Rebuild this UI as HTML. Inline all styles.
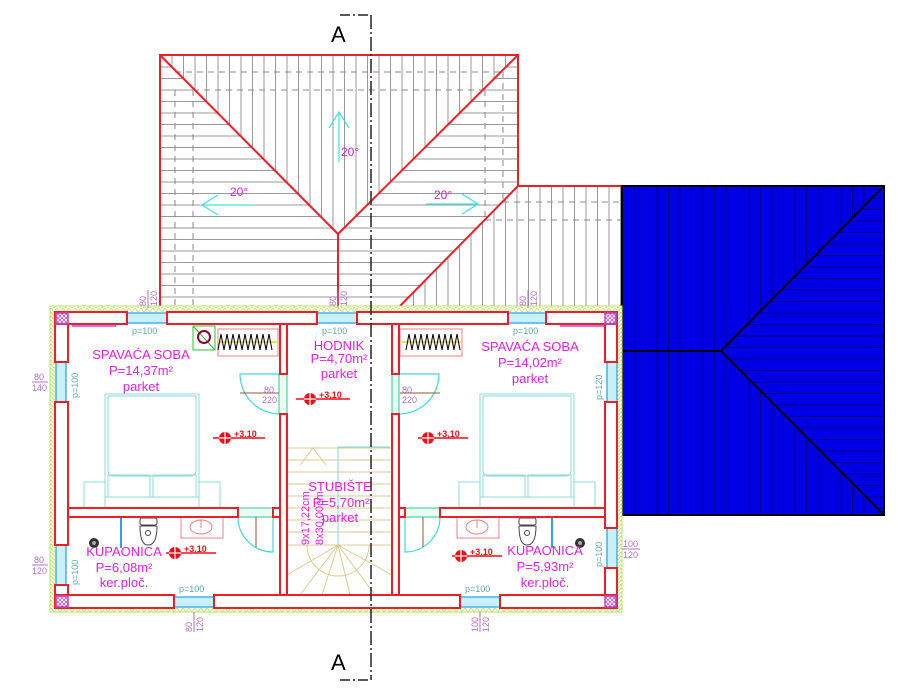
<!DOCTYPE html>
<html><head><meta charset="utf-8"><style>
html,body{margin:0;padding:0;background:#fff;}
svg{display:block;font-family:"Liberation Sans",sans-serif;}
</style></head><body>
<svg width="898" height="690" viewBox="0 0 898 690" xmlns="http://www.w3.org/2000/svg">
<defs>
<pattern id="hl" width="10" height="11.5" patternUnits="userSpaceOnUse" y="55"><line x1="0" y1="0.5" x2="10" y2="0.5" stroke="#999" stroke-width="1"/></pattern>
<pattern id="vl" width="11.5" height="10" patternUnits="userSpaceOnUse" x="160"><line x1="0.5" y1="0" x2="0.5" y2="10" stroke="#999" stroke-width="1"/></pattern>
<pattern id="bv" width="11.5" height="10" patternUnits="userSpaceOnUse" x="622"><line x1="0.5" y1="0" x2="0.5" y2="10" stroke="#00008a" stroke-width="1"/></pattern>
<pattern id="bh" width="10" height="11.5" patternUnits="userSpaceOnUse" y="186"><line x1="0" y1="0.5" x2="10" y2="0.5" stroke="#00008a" stroke-width="1"/></pattern>
<pattern id="zig" width="6" height="4" patternUnits="userSpaceOnUse"><path d="M0 4 L3 0 L6 4" fill="none" stroke="#b7e05a" stroke-width="0.8"/></pattern>
<pattern id="xh" width="4" height="4" patternUnits="userSpaceOnUse"><path d="M0 0L4 4M4 0L0 4" stroke="#c040c0" stroke-width="0.7"/></pattern>
</defs>

<polygon points="160,55 338,234 338,306 160,306" fill="url(#hl)"/>
<polygon points="160,55 518,55 338,234" fill="url(#vl)"/>
<polygon points="518,55 518,186 400,306 338,306 338,234" fill="url(#hl)"/>
<polygon points="518,186 622,186 622,306 400,306" fill="url(#vl)"/>
<g stroke="#888" stroke-dasharray="6,5" stroke-width="1">
<line x1="175" y1="90" x2="175" y2="306"/><line x1="193" y1="90" x2="193" y2="306"/>
<line x1="175" y1="72" x2="503" y2="72"/><line x1="193" y1="90" x2="485" y2="90"/>
<line x1="503" y1="72" x2="503" y2="202"/><line x1="485" y1="90" x2="485" y2="220"/>
<line x1="503" y1="202" x2="622" y2="202"/><line x1="485" y1="220" x2="622" y2="220"/>
</g>
<g stroke="#e8202a" stroke-width="2" fill="none">
<polyline points="160,306 160,55 518,55 518,186 622,186"/>
<line x1="160" y1="55" x2="338" y2="234"/><line x1="518" y1="55" x2="338" y2="234"/>
<line x1="338" y1="234" x2="338" y2="306"/><line x1="518" y1="186" x2="400" y2="306"/>
</g>
<g stroke="#40e0e0" stroke-width="1.2" fill="none">
<line x1="339" y1="162" x2="339" y2="112"/><polyline points="329,128 339,112 349,128"/>
<line x1="252" y1="205" x2="202" y2="205"/><polyline points="218,195 202,205 218,215"/>
<line x1="426" y1="204" x2="478" y2="204"/><polyline points="462,194 478,204 462,214"/>
</g>
<g fill="#d020d0" font-size="12"><text x="341" y="156">20°</text><text x="230" y="196">20°</text><text x="434" y="199">20°</text></g>

<rect x="622" y="186" width="262" height="329" fill="#0000e4"/>
<polygon points="622,186 884,186 721,351 884,515 622,515" fill="url(#bv)"/>
<polygon points="884,186 721,351 884,515" fill="url(#bh)"/>
<g stroke="#000" stroke-width="2" fill="none">
<rect x="622" y="186" width="262" height="329"/>
<line x1="622" y1="351" x2="721" y2="351"/><line x1="721" y1="351" x2="884" y2="186"/><line x1="721" y1="351" x2="884" y2="515"/>
</g>

<rect x="50" y="306" width="572" height="306" fill="#fff" stroke="#b7e05a" stroke-width="1"/>
<rect x="51" y="307" width="570" height="5" fill="url(#zig)"/>
<rect x="51" y="608" width="570" height="4" fill="url(#zig)"/>
<rect x="50" y="307" width="5" height="304" fill="url(#zig)"/>
<rect x="617" y="307" width="5" height="304" fill="url(#zig)"/>

<g stroke="#e0c890" stroke-width="1" fill="none">
<line x1="287" y1="448" x2="392" y2="448"/><line x1="287" y1="460" x2="392" y2="460"/>
<line x1="287" y1="472" x2="392" y2="472"/><line x1="287" y1="484" x2="392" y2="484"/>
<line x1="287" y1="496" x2="392" y2="496"/><line x1="287" y1="508" x2="392" y2="508"/>
<line x1="287" y1="520" x2="392" y2="520"/><line x1="287" y1="532" x2="392" y2="532"/>
<polyline points="300,465 313,448 326,465"/>
<path d="M307 545 A31 31 0 0 0 369 545"/>
<line x1="338" y1="545" x2="287" y2="575"/><line x1="338" y1="545" x2="300" y2="595"/>
<line x1="338" y1="545" x2="322" y2="595"/><line x1="338" y1="545" x2="350" y2="595"/>
<line x1="338" y1="545" x2="375" y2="595"/><line x1="338" y1="545" x2="392" y2="575"/>
<line x1="287" y1="545" x2="392" y2="545"/>
</g>
<polyline points="338,545 338,447 390,447" fill="none" stroke="#7ad8e0" stroke-width="1"/>

<g stroke="#8ed8d8" stroke-width="1" fill="none">
<rect x="105" y="394" width="94" height="103"/><path d="M108 396 H196 V470 Q196 476 190 476 H114 Q108 476 108 470 Z"/>
<rect x="108" y="475" width="42" height="22"/><rect x="153" y="475" width="43" height="22"/>
<rect x="84" y="482" width="21" height="26"/><rect x="199" y="482" width="21" height="26"/><line x1="105" y1="497" x2="199" y2="497"/>
<rect x="480" y="394" width="94" height="103"/><path d="M483 396 H571 V470 Q571 476 565 476 H489 Q483 476 483 470 Z"/>
<rect x="483" y="475" width="42" height="22"/><rect x="528" y="475" width="43" height="22"/>
<rect x="459" y="482" width="21" height="26"/><rect x="574" y="482" width="21" height="26"/><line x1="480" y1="497" x2="574" y2="497"/>
</g>
<g stroke="#444" stroke-width="1" fill="#fff">
<rect x="140" y="518" width="17" height="7" rx="2"/><path d="M140 526 Q140 545 148 545 Q157 545 157 526 Z"/><circle cx="148" cy="533" r="2.5" fill="none"/>
<rect x="519" y="518" width="17" height="7" rx="2"/><path d="M519 526 Q519 545 527 545 Q536 545 536 526 Z"/><circle cx="527" cy="533" r="2.5" fill="none"/>
</g>
<g stroke="#f08080" stroke-width="1" fill="none">
<rect x="181" y="517" width="42" height="21"/><ellipse cx="201" cy="527" rx="11" ry="7"/><line x1="201" y1="520" x2="201" y2="528"/>
<rect x="457" y="517" width="42" height="21"/><ellipse cx="477" cy="527" rx="11" ry="7"/><line x1="477" y1="520" x2="477" y2="528"/>
<rect x="218" y="329" width="60" height="27"/><rect x="400" y="329" width="62" height="27"/>
</g>
<line x1="121" y1="518" x2="121" y2="548" stroke="#30a0e8" stroke-width="2"/>
<line x1="552" y1="518" x2="552" y2="548" stroke="#30a0e8" stroke-width="2"/>
<circle cx="94" cy="543" r="5" fill="#333"/><circle cx="94" cy="543" r="2" fill="#aaa"/>
<circle cx="580" cy="543" r="5" fill="#333"/><circle cx="580" cy="543" r="2" fill="#aaa"/>
<line x1="218" y1="342" x2="278" y2="342" stroke="#f0e040" stroke-width="2"/>
<line x1="402" y1="342" x2="462" y2="342" stroke="#f0e040" stroke-width="2"/>
<path d="M218 350 l3 -16 l3 16 l3 -16 l3 16 l3 -16 l3 16 l3 -16 l3 16 l3 -16 l3 16 l3 -16 l3 16 l3 -16 l3 16 l3 -16 l3 16 l3 -16 l3 16" fill="none" stroke="#000" stroke-width="1"/>
<path d="M406 350 l3 -16 l3 16 l3 -16 l3 16 l3 -16 l3 16 l3 -16 l3 16 l3 -16 l3 16 l3 -16 l3 16 l3 -16 l3 16 l3 -16 l3 16 l3 -16 l3 16" fill="none" stroke="#000" stroke-width="1"/>
<polygon points="193,326 215,326 215,350 193,350" fill="none" stroke="#30c030" stroke-width="1"/>
<line x1="193" y1="326" x2="215" y2="350" stroke="#30c030"/>
<circle cx="204" cy="337" r="6" fill="none" stroke="#900030" stroke-width="2"/>

<g stroke="#40d8d8" stroke-width="1.2" fill="none">
<path d="M280 374 L240 374 A40 40 0 0 0 280 414"/>
<path d="M399 374 L439 374 A40 40 0 0 1 399 414"/>
<path d="M238 517 A35 35 0 0 0 273 552 L273 517"/>
<path d="M440 517 A35 35 0 0 1 405 552 L405 517"/>
</g>
<g stroke="#a05030" stroke-width="1">
<line x1="240" y1="393" x2="280" y2="393"/><line x1="400" y1="393" x2="440" y2="393"/>
<line x1="256" y1="515" x2="256" y2="547"/><line x1="423" y1="515" x2="423" y2="547"/>
</g>
<rect x="279" y="374" width="8" height="40" fill="#e8fff0" stroke="#30c0a0"/>
<rect x="392" y="374" width="7" height="40" fill="#e8fff0" stroke="#30c0a0"/>
<rect x="238" y="508" width="35" height="9" fill="#e8fff0" stroke="#30c0a0"/>
<rect x="405" y="508" width="35" height="9" fill="#e8fff0" stroke="#30c0a0"/>

<g fill="#c8f0ff" stroke="#20a0e0" stroke-width="1.2">
<rect x="127" y="313" width="40" height="10"/><rect x="317" y="313" width="40" height="10"/><rect x="508" y="313" width="38" height="10"/>
<rect x="174" y="597" width="40" height="10"/><rect x="460" y="597" width="40" height="10"/>
<rect x="56" y="362" width="10" height="40"/><rect x="56" y="545" width="10" height="40"/>
<rect x="607" y="362" width="10" height="40"/><rect x="607" y="528" width="10" height="40"/>
</g>

<g fill="#fff" stroke="#e8202a" stroke-width="2">
<rect x="55" y="312" width="72" height="12"/><rect x="167" y="312" width="150" height="12"/>
<rect x="357" y="312" width="151" height="12"/><rect x="546" y="312" width="71" height="12"/>
<rect x="55" y="595" width="119" height="13"/><rect x="214" y="595" width="246" height="13"/><rect x="500" y="595" width="117" height="13"/>
<rect x="55" y="324" width="13" height="38"/><rect x="55" y="402" width="13" height="143"/><rect x="55" y="585" width="13" height="10"/>
<rect x="605" y="324" width="12" height="38"/><rect x="605" y="402" width="12" height="126"/><rect x="605" y="568" width="12" height="27"/>
<rect x="280" y="324" width="7" height="50"/><rect x="280" y="414" width="7" height="181"/>
<rect x="392" y="324" width="7" height="50"/><rect x="392" y="414" width="7" height="181"/>
<rect x="68" y="508" width="170" height="9"/><rect x="273" y="508" width="7" height="9"/>
<rect x="399" y="508" width="6" height="9"/><rect x="440" y="508" width="165" height="9"/>
</g>
<g fill="url(#xh)" stroke="#c040c0" stroke-width="1.5">
<rect x="56" y="313" width="12" height="11"/><rect x="605" y="313" width="11" height="11"/>
<rect x="56" y="596" width="12" height="11"/><rect x="605" y="596" width="11" height="11"/>
</g>
<line x1="72" y1="326" x2="116" y2="326" stroke="#c040c0" stroke-width="1.5"/>
<line x1="560" y1="326" x2="604" y2="326" stroke="#c040c0" stroke-width="1.5"/>

<g stroke="#e8101a" stroke-width="1.5" fill="none">
<line x1="213" y1="438" x2="265" y2="438"/><line x1="296" y1="399" x2="350" y2="399"/><line x1="418" y1="438" x2="468" y2="438"/>
<line x1="166" y1="553" x2="216" y2="553"/><line x1="452" y1="556" x2="502" y2="556"/>
</g>
<g fill="#e8101a">
<circle cx="225" cy="438" r="6"/><circle cx="310" cy="399" r="6"/><circle cx="428" cy="438" r="6"/><circle cx="175" cy="553" r="6"/><circle cx="461" cy="556" r="6"/>
</g>
<g stroke="#fff" stroke-width="1.2">
<line x1="225" y1="432" x2="225" y2="444"/><line x1="219" y1="438" x2="231" y2="438"/>
<line x1="310" y1="393" x2="310" y2="405"/><line x1="304" y1="399" x2="316" y2="399"/>
<line x1="428" y1="432" x2="428" y2="444"/><line x1="422" y1="438" x2="434" y2="438"/>
<line x1="175" y1="547" x2="175" y2="559"/><line x1="169" y1="553" x2="181" y2="553"/>
<line x1="461" y1="550" x2="461" y2="562"/><line x1="455" y1="556" x2="467" y2="556"/>
</g>
<g fill="#e8101a" font-size="9" font-weight="bold">
<text x="234" y="437">+3,10</text><text x="319" y="398">+3,10</text><text x="437" y="437">+3,10</text><text x="184" y="552">+3,10</text><text x="470" y="555">+3,10</text>
</g>

<g fill="#e020e0" font-size="13" text-anchor="middle">
<text x="141" y="359">SPAVAĆA SOBA</text><text x="141" y="375">P=14,37m²</text><text x="141" y="391">parket</text>
<text x="530" y="351">SPAVAĆA SOBA</text><text x="530" y="367">P=14,02m²</text><text x="530" y="383">parket</text>
<text x="339" y="350">HODNIK</text><text x="339" y="363">P=4,70m²</text><text x="339" y="378">parket</text>
<text x="340" y="491">STUBIŠTE</text><text x="341" y="507">P=5,70m²</text><text x="340" y="522">parket</text>
<text x="124" y="556">KUPAONICA</text><text x="124" y="572">P=6,08m²</text><text x="124" y="587">ker.ploč.</text>
<text x="545" y="555">KUPAONICA</text><text x="545" y="571">P=5,93m²</text><text x="545" y="587">ker.ploč.</text>
</g>
<g fill="#e020e0" font-size="11">
<text transform="translate(309,545) rotate(-90)">9x17,22cm</text>
<text transform="translate(323,545) rotate(-90)">8x30,00cm</text>
</g>

<g fill="#60a8a8" font-size="9">
<text x="132" y="334">p=100</text><text x="322" y="334">p=100</text><text x="513" y="334">p=100</text>
<text x="179" y="592">p=100</text><text x="465" y="592">p=100</text>
<text transform="translate(78,398) rotate(-90)">p=100</text>
<text transform="translate(78,585) rotate(-90)">p=100</text>
<text transform="translate(602,400) rotate(-90)">p=120</text>
<text transform="translate(602,567) rotate(-90)">p=100</text>
</g>
<g fill="#b070c0" font-size="9">
<text x="264" y="393">80</text><text x="262" y="403">220</text>
<text x="402" y="393">80</text><text x="402" y="403">220</text>
</g>
<g fill="#b070c0" font-size="9" stroke="none">
<text x="34" y="380">80</text><text x="32" y="391">140</text>
<text x="34" y="563">80</text><text x="32" y="574">120</text>
<text x="623" y="547">100</text><text x="623" y="558">120</text>
<text transform="translate(146,306) rotate(-90)">80</text><text transform="translate(157,306) rotate(-90)">120</text>
<text transform="translate(336,306) rotate(-90)">80</text><text transform="translate(347,306) rotate(-90)">120</text>
<text transform="translate(526,306) rotate(-90)">80</text><text transform="translate(537,306) rotate(-90)">120</text>
<text transform="translate(192,632) rotate(-90)">80</text><text transform="translate(203,632) rotate(-90)">120</text>
<text transform="translate(478,632) rotate(-90)">100</text><text transform="translate(489,632) rotate(-90)">120</text>
</g>
<g stroke="#b070c0" stroke-width="1">
<line x1="32" y1="382" x2="48" y2="382"/><line x1="32" y1="565" x2="48" y2="565"/><line x1="622" y1="549" x2="640" y2="549"/>
<line x1="148" y1="290" x2="148" y2="308"/><line x1="338" y1="290" x2="338" y2="308"/><line x1="528" y1="290" x2="528" y2="308"/>
<line x1="194" y1="612" x2="194" y2="632"/><line x1="480" y1="612" x2="480" y2="632"/>
</g>

<line x1="371" y1="15" x2="371" y2="680" stroke="#222" stroke-width="1.5" stroke-dasharray="14,3,2,3"/>
<polyline points="340,15 371,15" fill="none" stroke="#222" stroke-width="1.5" stroke-dasharray="10,3,2,3"/>
<polyline points="340,680 371,680" fill="none" stroke="#222" stroke-width="1.5" stroke-dasharray="10,3,2,3"/>
<g font-size="22" fill="#000"><text x="331" y="42">A</text><text x="331" y="670">A</text></g>
</svg>
</body></html>
